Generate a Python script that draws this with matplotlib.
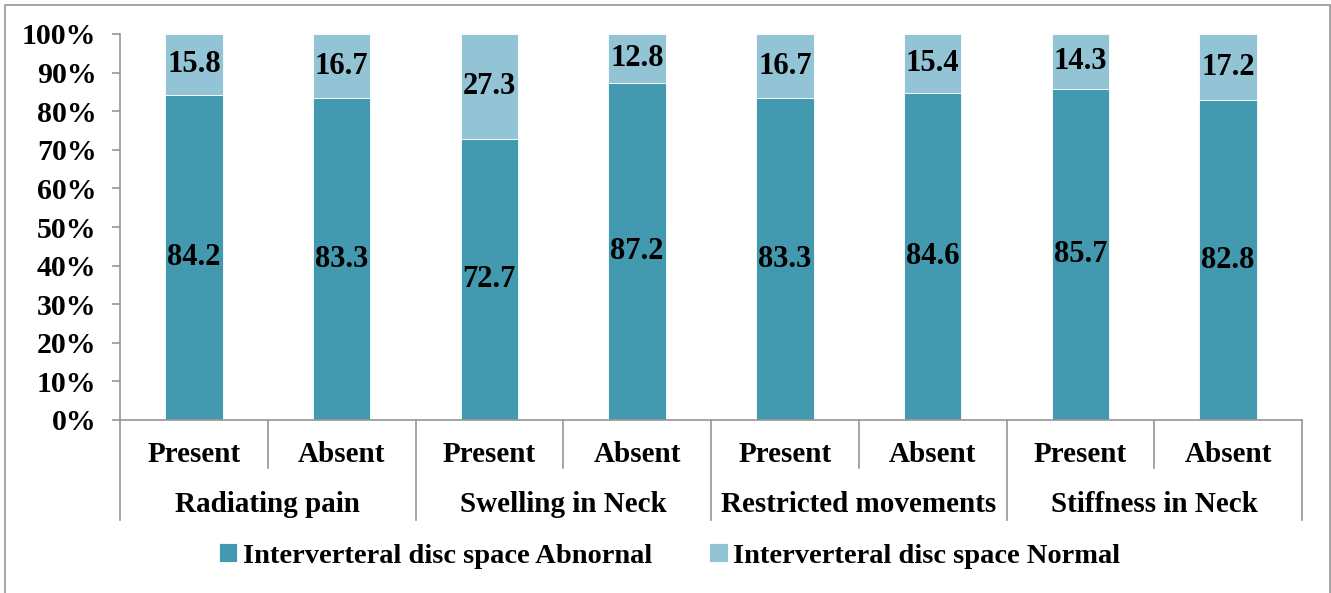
import numpy as np
import matplotlib.pyplot as plt
from matplotlib.patches import Rectangle
import matplotlib.transforms as mtransforms

plt.rcParams['font.family'] = 'Liberation Serif'
plt.rcParams['font.weight'] = 'bold'

# data
groups = ['Radiating pain', 'Swelling in Neck', 'Restricted movements', 'Stiffness in Neck']
subcats = ['Present', 'Absent'] * 4
abnormal = [84.2, 83.3, 72.7, 87.2, 83.3, 84.6, 85.7, 82.8]
normal = [15.8, 16.7, 27.3, 12.8, 16.7, 15.4, 14.3, 17.2]

dark = '#4399AF'
light = '#93C4D5'
grey = '#969696'

fig = plt.figure(figsize=(13.31, 5.93), dpi=100)
ax = fig.add_axes([120/1331, 1 - 420/593, 1182/1331, 386/593])

x = np.arange(len(subcats))
w = 0.39
ax.bar(x, abnormal, w, color=dark, edgecolor='white', linewidth=0.6,
       label='Interverteral disc space Abnornal')
ax.bar(x, normal, w, bottom=abnormal, color=light, edgecolor='white', linewidth=0.6,
       label='Interverteral disc space Normal')

for i in range(len(x)):
    ax.text(x[i], abnormal[i] / 2, f'{abnormal[i]:.1f}', ha='center', va='center', fontsize=22)
    ax.text(x[i], abnormal[i] + normal[i] / 2, f'{normal[i]:.1f}', ha='center', va='center', fontsize=22)

ax.set_xlim(-0.5, len(x) - 0.5)
ax.set_ylim(0, 100)
ax.set_yticks(np.arange(0, 101, 10))
ax.set_yticklabels([f'{v}%' for v in range(0, 101, 10)], fontsize=21.5)
ax.tick_params(axis='y', length=6, color=grey, width=1.2, pad=11)
ax.set_xticks([])

for s in ['top', 'right']:
    ax.spines[s].set_visible(False)
ax.spines['left'].set_color(grey)
ax.spines['bottom'].set_color(grey)
ax.spines['left'].set_linewidth(1.2)
ax.spines['bottom'].set_linewidth(1.2)

trans = mtransforms.blended_transform_factory(ax.transData, ax.transAxes)
px = 1 / 386  # one pixel in axes fraction (vertical)

# subcategory labels and separators
for i in range(len(x)):
    ax.text(x[i], -35 * px, subcats[i], transform=trans, ha='center', va='center', fontsize=21)
for i in range(len(x) + 1):
    pos = i - 0.5
    end = -100 * px if i % 2 == 0 else -48 * px
    ax.plot([pos, pos], [0, end], transform=trans, color=grey, lw=1.2, clip_on=False)

for j, g in enumerate(groups):
    ax.text(2 * j + 0.5, -85 * px, g, transform=trans, ha='center', va='center', fontsize=21)

fig.legend(loc='center', bbox_to_anchor=(0.503, 1 - 556/593), ncol=2, frameon=False,
           fontsize=20.5, handlelength=0.65, handleheight=0.65, handletextpad=0.2,
           columnspacing=2.0)

# outer chart border
fig.patches.append(Rectangle((5/1331, -0.1), 1325/1331, 1.1 - 5/593, transform=fig.transFigure,
                             fill=False, edgecolor=grey, lw=1.2))

fig.savefig('out.png', dpi=100)
